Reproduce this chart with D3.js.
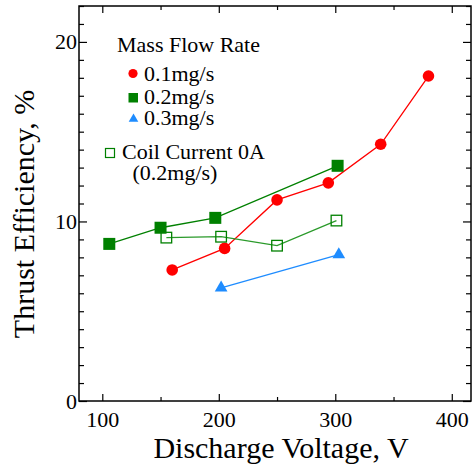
<!DOCTYPE html>
<html>
<head>
<meta charset="utf-8">
<script src="https://cdn.jsdelivr.net/npm/d3@7"></script>
<style>
  body { margin: 0; background: #fff; }
  text { font-family: "Liberation Serif", "Times New Roman", serif; }
</style>
</head>
<body>
<div id="container"></div>
<script>
/* DATA */
const flow01 = [
  { v: 160, eff: 7.3 },
  { v: 205, eff: 8.5 },
  { v: 250, eff: 11.2 },
  { v: 294, eff: 12.15 },
  { v: 339, eff: 14.3 },
  { v: 380, eff: 18.1 }
];
const flow02 = [
  { v: 106, eff: 8.75 },
  { v: 150, eff: 9.65 },
  { v: 197, eff: 10.2 },
  { v: 302, eff: 13.1 }
];
const flow03 = [
  { v: 202, eff: 6.3 },
  { v: 303, eff: 8.15 }
];
const coil0A = [
  { v: 155, eff: 9.1 },
  { v: 202, eff: 9.15 },
  { v: 250, eff: 8.65 },
  { v: 301, eff: 10.05 }
];
const xMajor = [100, 200, 300, 400];
const xMinor = [150, 250, 350];
const yMajor = [0, 10, 20];
const yMinor = d3.range(1, 23).filter(d => d % 10 !== 0);

/* CONSTANTS */
const width = 472, height = 465;
const pLeft = 79, pRight = 471, pTop = 6, pBottom = 401;

const svg = d3.select("#container")
  .append("svg")
  .attr("width", width)
  .attr("height", height);

const x = d3.scaleLinear().domain([80, 416.5]).range([pLeft, pRight]);
const y = d3.scaleLinear().domain([0, 22]).range([pBottom, pTop]);

// frame
svg.append("rect")
  .attr("x", pLeft).attr("y", pTop)
  .attr("width", pRight - pLeft).attr("height", pBottom - pTop)
  .attr("fill", "none").attr("stroke", "black").attr("stroke-width", 1.5);

// ticks (inward on all four sides)
function ticks(axis, vals, size, pos, labels) {
  const g = svg.append("g").attr("transform", pos)
    .call(axis.tickValues(vals).tickSize(-size).tickSizeOuter(0)
      .tickFormat(labels ? d3.format("d") : ""));
  g.select(".domain").remove();
  g.selectAll("line").attr("stroke", "black").attr("stroke-width", 1.2);
  g.selectAll("text").attr("font-size", 22).attr("fill", "black")
    .style("font-family", '"Liberation Serif", "Times New Roman", serif');
  return g;
}
ticks(d3.axisBottom(x), xMajor, 7, `translate(0,${pBottom})`, true)
  .selectAll("text").attr("dy", "0.95em").attr("y", 5);
ticks(d3.axisBottom(x), xMinor, 4, `translate(0,${pBottom})`, false);
ticks(d3.axisTop(x), xMajor, 7, `translate(0,${pTop})`, false);
ticks(d3.axisTop(x), xMinor, 4, `translate(0,${pTop})`, false);
ticks(d3.axisLeft(y), yMajor, 8, `translate(${pLeft},0)`, true)
  .selectAll("text").attr("x", -2);
ticks(d3.axisLeft(y), yMinor, 5, `translate(${pLeft},0)`, false);
ticks(d3.axisRight(y), yMajor, 8, `translate(${pRight},0)`, false);
ticks(d3.axisRight(y), yMinor, 5, `translate(${pRight},0)`, false);

// axis titles
svg.append("text")
  .attr("x", 281).attr("y", 458)
  .attr("text-anchor", "middle").attr("font-size", 30)
  .text("Discharge Voltage, V");
svg.append("text")
  .attr("transform", "translate(34,214) rotate(-90)")
  .attr("text-anchor", "middle").attr("font-size", 30)
  .text("Thrust Efficiency, %");

// lines
const line = d3.line().x(d => x(d.v)).y(d => y(d.eff));
const series = [
  { data: flow01, color: "#ff0000" },
  { data: flow02, color: "#008000" },
  { data: coil0A, color: "#2a9a2a" },
  { data: flow03, color: "#1e8cff" }
];
series.forEach(s => {
  svg.append("path").datum(s.data)
    .attr("d", line).attr("fill", "none")
    .attr("stroke", s.color).attr("stroke-width", 1.3);
});

// markers
svg.selectAll(".c01").data(flow01).join("circle")
  .attr("cx", d => x(d.v)).attr("cy", d => y(d.eff))
  .attr("r", 5.8).attr("fill", "#ff0000");
svg.selectAll(".s02").data(flow02).join("rect")
  .attr("x", d => x(d.v) - 6).attr("y", d => y(d.eff) - 6)
  .attr("width", 12).attr("height", 12).attr("fill", "#008000");
svg.selectAll(".o0A").data(coil0A).join("rect")
  .attr("x", d => x(d.v) - 5.3).attr("y", d => y(d.eff) - 5.3)
  .attr("width", 10.6).attr("height", 10.6)
  .attr("fill", "none").attr("stroke", "#008000").attr("stroke-width", 1.3);
const tri = d3.symbol().type(d3.symbolTriangle).size(70);
svg.selectAll(".t03").data(flow03).join("path")
  .attr("d", tri)
  .attr("transform", d => `translate(${x(d.v)},${y(d.eff)})`)
  .attr("fill", "#1e8cff");

// LEGEND
const lg = svg.append("g").attr("font-size", 22);
lg.append("text").attr("x", 117).attr("y", 52).text("Mass Flow Rate");
lg.append("circle").attr("cx", 133).attr("cy", 73.5).attr("r", 4.6).attr("fill", "#ff0000");
lg.append("text").attr("x", 144).attr("y", 80.5).text("0.1mg/s");
lg.append("rect").attr("x", 128.5).attr("y", 93).attr("width", 9.5).attr("height", 9.5).attr("fill", "#008000");
lg.append("text").attr("x", 144).attr("y", 103.5).text("0.2mg/s");
lg.append("path").attr("d", d3.symbol().type(d3.symbolTriangle).size(40))
  .attr("transform", "translate(133.5,119)").attr("fill", "#1e8cff");
lg.append("text").attr("x", 144).attr("y", 125).text("0.3mg/s");
lg.append("rect").attr("x", 105.5).attr("y", 148.5).attr("width", 9).attr("height", 9)
  .attr("fill", "none").attr("stroke", "#008000").attr("stroke-width", 1.2);
lg.append("text").attr("x", 122).attr("y", 159).text("Coil Current 0A");
lg.append("text").attr("x", 132.5).attr("y", 180).text("(0.2mg/s)");
</script>
</body>
</html>
